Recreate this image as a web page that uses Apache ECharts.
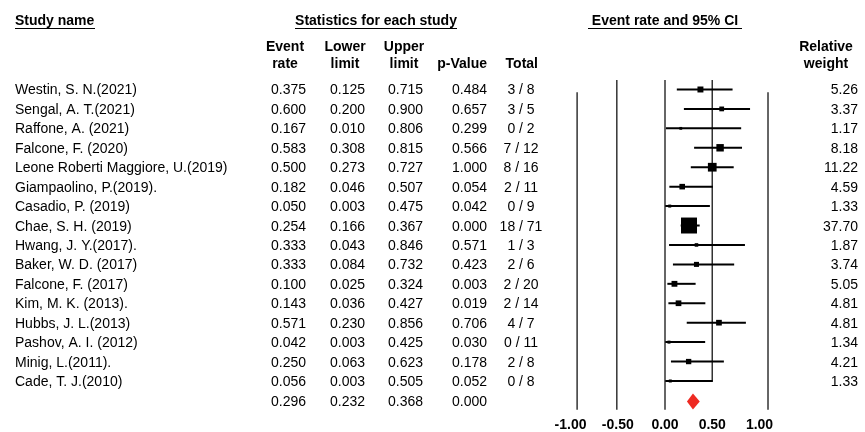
<!DOCTYPE html>
<html>
<head>
<meta charset="utf-8">
<script src="https://cdn.jsdelivr.net/npm/echarts@6/dist/echarts.min.js"></script>
<style>
  html, body { margin: 0; padding: 0; background: #fff; }
  #chart { width: 865px; height: 432px; }
</style>
</head>
<body>
<div id="chart"></div>
<script>
// studies, top to bottom
var studyNames = [
  'Westin, S. N.(2021)', 'Sengal, A. T.(2021)', 'Raffone, A. (2021)', 'Falcone, F. (2020)',
  'Leone Roberti Maggiore, U.(2019)', 'Giampaolino, P.(2019).', 'Casadio, P. (2019)', 'Chae, S. H. (2019)',
  'Hwang, J. Y.(2017).', 'Baker, W. D. (2017)', 'Falcone, F. (2017)', 'Kim, M. K. (2013).',
  'Hubbs, J. L.(2013)', 'Pashov, A. I. (2012)', 'Minig, L.(2011).', 'Cade, T. J.(2010)'
];
var eventRate = [0.375, 0.600, 0.167, 0.583, 0.500, 0.182, 0.050, 0.254, 0.333, 0.333, 0.100, 0.143, 0.571, 0.042, 0.250, 0.056];
var lowerLimit = [0.125, 0.200, 0.010, 0.308, 0.273, 0.046, 0.003, 0.166, 0.043, 0.084, 0.025, 0.036, 0.230, 0.003, 0.063, 0.003];
var upperLimit = [0.715, 0.900, 0.806, 0.815, 0.727, 0.507, 0.475, 0.367, 0.846, 0.732, 0.324, 0.427, 0.856, 0.425, 0.623, 0.505];
var pValue = [0.484, 0.657, 0.299, 0.566, 1.000, 0.054, 0.042, 0.000, 0.571, 0.423, 0.003, 0.019, 0.706, 0.030, 0.178, 0.052];
var totals = ['3 / 8', '3 / 5', '0 / 2', '7 / 12', '8 / 16', '2 / 11', '0 / 9', '18 / 71', '1 / 3', '2 / 6', '2 / 20', '2 / 14', '4 / 7', '0 / 11', '2 / 8', '0 / 8'];
var relWeight = [5.26, 3.37, 1.17, 8.18, 11.22, 4.59, 1.33, 37.70, 1.87, 3.74, 5.05, 4.81, 4.81, 1.34, 4.21, 1.33];

// pooled estimate: rate, lower, upper, p
var pooled = [0.296, 0.232, 0.368, 0.000];

// vertical guide lines as drawn: x value, top row, bottom row
var guideLines = [[-0.93, 0.14, 16.48], [-0.51, -0.49, 16.48], [0, -0.49, 16.48], [0.5, -0.49, 15.04], [1.09, 0.14, 16.48]];

var FONT = "'Liberation Sans', Arial, sans-serif";
var nRows = studyNames.length;
var pooledRow = nRows;

var myChart = echarts.init(document.getElementById('chart'));

function fmt3(v) { return v.toFixed(3); }

// one column of table text, drawn on the full-width "table" grid
function textColumn(texts, colX, align, rows) {
  return {
    type: 'custom',
    xAxisIndex: 1,
    yAxisIndex: 1,
    silent: true,
    data: texts.map(function (t, i) { return [colX, rows ? rows[i] : i]; }),
    renderItem: function (params, api) {
      var p = api.coord([api.value(0), api.value(1)]);
      return {
        type: 'text',
        x: p[0],
        y: p[1] + 1,
        style: {
          text: texts[params.dataIndex],
          align: align,
          verticalAlign: 'middle',
          fontSize: 14,
          fontFamily: FONT,
          fill: '#000'
        }
      };
    }
  };
}

function headText(text, x, y, align, bold) {
  return {
    type: 'text',
    x: x,
    y: y,
    style: {
      text: text,
      align: align,
      verticalAlign: 'middle',
      fontSize: 14,
      fontWeight: bold ? 'bold' : 'normal',
      fontFamily: FONT,
      fill: '#000'
    }
  };
}

function underline(x1, x2, y) {
  return { type: 'line', shape: { x1: x1, y1: y, x2: x2, y2: y }, style: { stroke: '#000', lineWidth: 1 } };
}

var rowIdx = studyNames.map(function (n, i) { return i; });
var erText = eventRate.map(fmt3).concat([fmt3(pooled[0])]);
var loText = lowerLimit.map(fmt3).concat([fmt3(pooled[1])]);
var hiText = upperLimit.map(fmt3).concat([fmt3(pooled[2])]);
var pText = pValue.map(fmt3).concat([fmt3(pooled[3])]);
var allRows = rowIdx.concat([pooledRow]);

var option = {
  animation: false,
  backgroundColor: '#fff',
  grid: [
    { left: 523.25, right: 58.25, top: 70.05, bottom: 16.7 },
    { left: 0, right: 0, top: 70.05, bottom: 16.7 }
  ],
  xAxis: [
    {
      gridIndex: 0,
      type: 'value',
      min: -1.5,
      max: 1.5,
      interval: 0.5,
      axisLine: { show: false },
      axisTick: { show: false },
      splitLine: { show: false },
      axisLabel: {
        margin: 3,
        color: '#000',
        fontSize: 14,
        fontWeight: 'bold',
        fontFamily: FONT,
        formatter: function (v) { return Math.abs(v) > 1 ? '' : v.toFixed(2); }
      }
    },
    { gridIndex: 1, type: 'value', min: 0, max: 865, show: false }
  ],
  yAxis: [
    { gridIndex: 0, type: 'value', inverse: true, min: -1, max: 16.75, show: false },
    { gridIndex: 1, type: 'value', inverse: true, min: -1, max: 16.75, show: false }
  ],
  graphic: [
    headText('Study name', 15, 21, 'left', true),
    underline(15, 95, 28.5),
    headText('Statistics for each study', 376, 21, 'center', true),
    underline(295, 457, 28.5),
    headText('Event rate and 95% CI', 665, 21, 'center', true),
    underline(588, 742, 28.5),
    headText('Event', 285, 47, 'center', true),
    headText('rate', 285, 64, 'center', true),
    headText('Lower', 345, 47, 'center', true),
    headText('limit', 345, 64, 'center', true),
    headText('Upper', 404, 47, 'center', true),
    headText('limit', 404, 64, 'center', true),
    headText('p-Value', 487, 64, 'right', true),
    headText('Total', 538, 64, 'right', true),
    headText('Relative', 826, 47, 'center', true),
    headText('weight', 826, 64, 'center', true)
  ],
  series: [
    // guide lines
    {
      type: 'custom',
      silent: true,
      data: guideLines,
      renderItem: function (params, api) {
        var a = api.coord([api.value(0), api.value(1)]);
        var b = api.coord([api.value(0), api.value(2)]);
        return {
          type: 'line',
          shape: { x1: a[0], y1: a[1], x2: b[0], y2: b[1] },
          style: { stroke: '#333', lineWidth: 1.5 }
        };
      },
      z: 1
    },
    // confidence intervals
    {
      type: 'custom',
      silent: true,
      data: rowIdx.map(function (i) { return [lowerLimit[i], i, upperLimit[i]]; }),
      renderItem: function (params, api) {
        var a = api.coord([api.value(0), api.value(1)]);
        var b = api.coord([api.value(2), api.value(1)]);
        return {
          type: 'line',
          shape: { x1: a[0], y1: a[1], x2: b[0], y2: b[1] },
          style: { stroke: '#000', lineWidth: 2 }
        };
      },
      z: 2
    },
    // study estimates, box size from weight
    {
      type: 'scatter',
      silent: true,
      symbol: 'rect',
      data: rowIdx.map(function (i) { return [eventRate[i], i, relWeight[i]]; }),
      symbolSize: function (val) { return Math.max(2, 2.6 * Math.sqrt(val[2])); },
      itemStyle: { color: '#000', opacity: 1 },
      z: 3
    },
    // pooled diamond
    {
      type: 'custom',
      silent: true,
      data: [[pooled[0], pooledRow, pooled[1], pooled[2]]],
      renderItem: function (params, api) {
        var c = api.coord([api.value(0), api.value(1)]);
        var l = api.coord([api.value(2), api.value(1)]);
        var r = api.coord([api.value(3), api.value(1)]);
        var h = 8;
        return {
          type: 'polygon',
          shape: { points: [[l[0], c[1] + 1], [c[0], c[1] + 1 - h], [r[0], c[1] + 1], [c[0], c[1] + 1 + h]] },
          style: { fill: '#ee2a22' }
        };
      },
      z: 3
    },
    textColumn(studyNames, 15, 'left'),
    textColumn(erText, 306, 'right', allRows),
    textColumn(loText, 365, 'right', allRows),
    textColumn(hiText, 423, 'right', allRows),
    textColumn(pText, 487, 'right', allRows),
    textColumn(totals, 521, 'center'),
    textColumn(relWeight.map(function (v) { return v.toFixed(2); }), 858, 'right')
  ]
};

myChart.setOption(option);
</script>
</body>
</html>
